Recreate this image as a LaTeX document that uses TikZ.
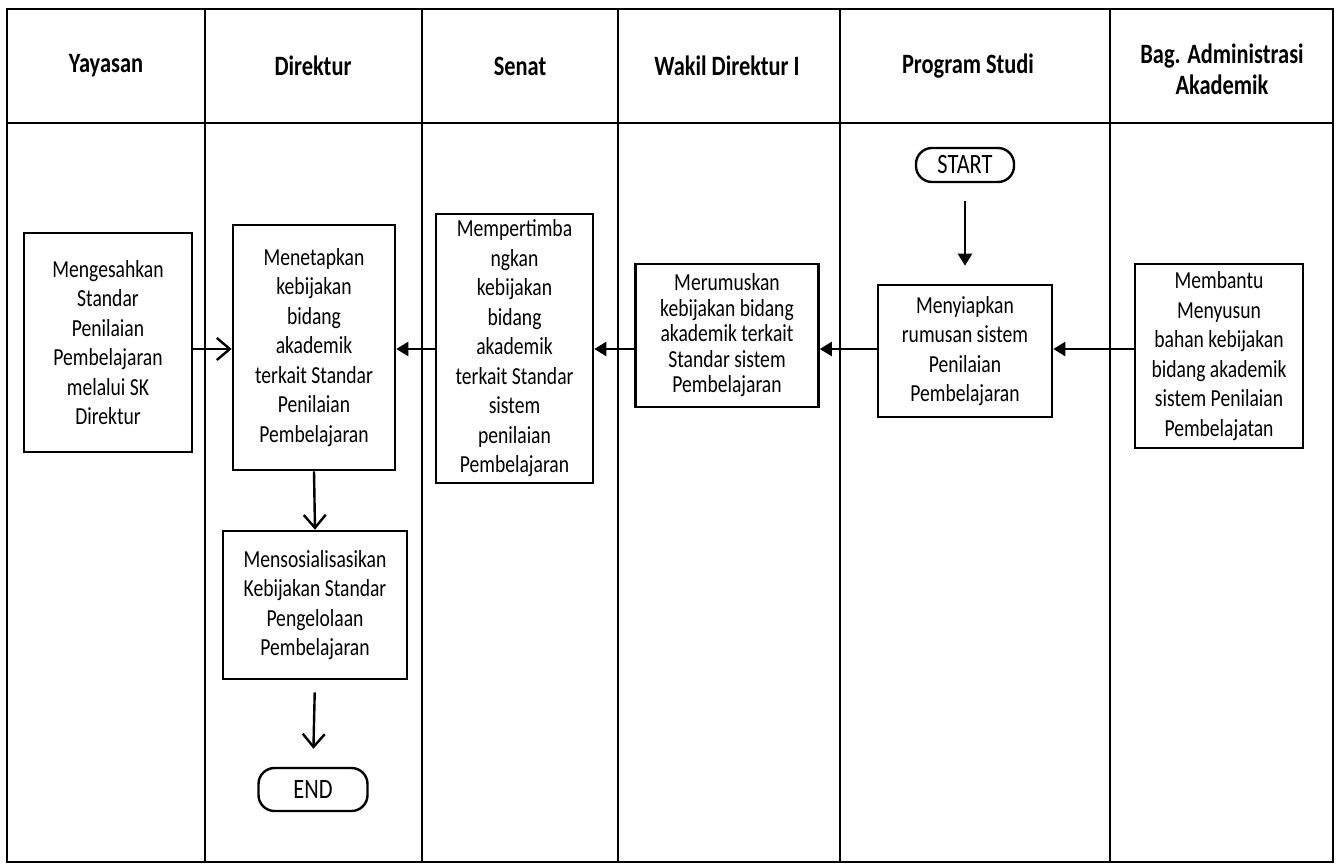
\documentclass[tikz,border=0pt]{standalone}
\usepackage{fontspec}
\setmainfont{Carlito}[FakeStretch=0.8]
\usetikzlibrary{arrows.meta}
\begin{document}
\begin{tikzpicture}[x=1pt,y=-1pt,
  lane/.style={line width=2.6pt},
  box/.style={draw, line width=2.6pt, align=center, inner sep=0pt, font=\fontsize{24.5}{29.5}\selectfont},
  head/.style={align=center, font=\bfseries\fontsize{28}{31}\selectfont},
  pill/.style={draw, line width=2.4pt, rounded corners=16pt, inner sep=0pt, font=\fontsize{28}{30}\selectfont},
  openarr/.style={line width=2.4pt, -{Straight Barb[length=13pt,width=22pt,line width=2.4pt]}},
  fillarr/.style={line width=2.4pt, -{Triangle[length=12pt,width=14pt]}}]
\useasboundingbox (0,0) rectangle (1340,864);
% frame and lanes
\draw[lane] (7,9) rectangle (1333,862);
\draw[lane] (7,123) -- (1333,123);
\foreach \x in {205,422,618,840,1110} \draw[lane] (\x,9) -- (\x,862);
% headers
\node[head] (h1) at (106,66) {Yayasan};
\node[head] (h2) at (313,66) {Direktur};
\node[head] (h3) at (520,66) {Senat};
\node[head] (h4) at (727,66) {Wakil Direktur I};
\node[head] (h5) at (968,66) {Program Studi};
\node[head] (h6) at (1222,69) {Bag. Administrasi\\Akademik};
% nodes
\node[box, minimum width=168pt, minimum height=219pt] (yay) at (108,342.5)
  {Mengesahkan\\Standar\\Penilaian\\Pembelajaran\\melalui SK\\Direktur};
\node[box, minimum width=162pt, minimum height=245pt] (dir1) at (314,347.5)
  {Menetapkan\\kebijakan\\bidang\\akademik\\terkait Standar\\Penilaian\\Pembelajaran};
\node[box, minimum width=184pt, minimum height=148pt] (dir2) at (315,605)
  {Mensosialisasikan\\Kebijakan Standar\\Pengelolaan\\Pembelajaran};
\node[pill, minimum width=109pt, minimum height=43pt] (endn) at (313,789.5) {END};
\node[box, minimum width=157pt, minimum height=269pt] (sen) at (514.5,348.5)
  {Mempertimba\\ngkan\\kebijakan\\bidang\\akademik\\terkait Standar\\sistem\\penilaian\\Pembelajaran};
\node[box, minimum width=183pt, minimum height=143pt, font=\fontsize{24.5}{25.5}\selectfont] (wak) at (727,335.5)
  {Merumuskan\\kebijakan bidang\\akademik terkait\\Standar sistem\\Pembelajaran};
\node[box, minimum width=174pt, minimum height=132pt] (prog) at (965,351)
  {Menyiapkan\\rumusan sistem\\Penilaian\\Pembelajaran};
\node[pill, minimum width=98pt, minimum height=34pt] (start) at (965,165) {START};
\node[box, minimum width=168pt, minimum height=184pt] (bag) at (1219,356)
  {Membantu\\Menyusun\\bahan kebijakan\\bidang akademik\\sistem Penilaian\\Pembelajatan};
% connectors
\coordinate (r) at (0,349);
\draw[openarr] (yay.east |- r) -- (dir1.west |- r);
\draw[fillarr] (sen.west |- r) -- (dir1.east |- r);
\draw[fillarr] (wak.west |- r) -- (sen.east |- r);
\draw[fillarr] (prog.west |- r) -- (wak.east |- r);
\draw[fillarr] (bag.west |- r) -- (prog.east |- r);
\draw[openarr] (dir1.south) -- (dir2.north);
\draw[openarr, shorten <=12pt, shorten >=18pt] (dir2.south) -- (endn.north);
\draw[fillarr, shorten <=18pt, shorten >=18pt] (start.south) -- (prog.north);
\end{tikzpicture}
\end{document}
